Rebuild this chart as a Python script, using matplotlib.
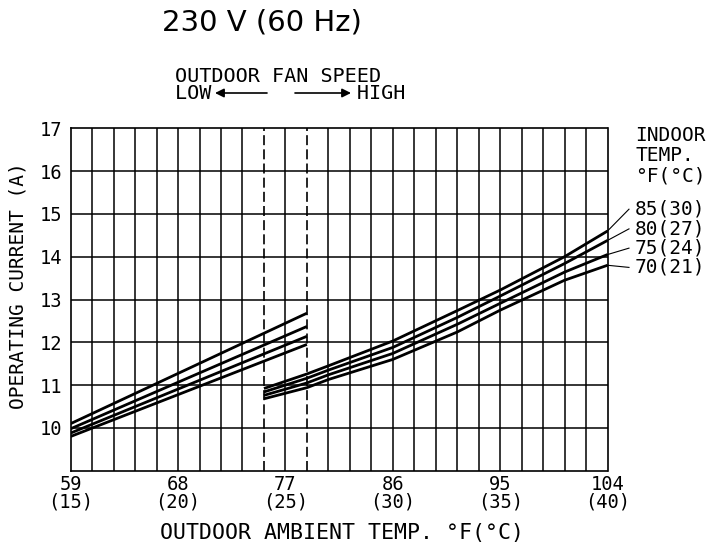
import matplotlib.pyplot as plt

# outdoor temperature axis (deg C), tick labels in F (C)
xtick_c = [15, 20, 25, 30, 35, 40]
xtick_f = [59, 68, 77, 86, 95, 104]
ytick_a = [10, 11, 12, 13, 14, 15, 16, 17]
fan_change = [24, 26]  # dashed lines: low / high fan speed switch

# low fan speed section
low_x = [15, 26]
low_85 = [10.10, 12.68]
low_80 = [9.98, 12.37]
low_75 = [9.88, 12.14]
low_70 = [9.80, 11.95]

# high fan speed section
high_x = [24, 26, 27, 30, 33, 35, 38, 40]
high_85 = [10.92, 11.26, 11.45, 12.03, 12.74, 13.22, 14.00, 14.60]
high_80 = [10.84, 11.16, 11.35, 11.88, 12.58, 13.08, 13.84, 14.38]
high_75 = [10.76, 11.05, 11.24, 11.74, 12.42, 12.91, 13.64, 14.05]
high_70 = [10.68, 10.94, 11.13, 11.60, 12.24, 12.75, 13.45, 13.80]

indoor_labels = ['85(30)', '80(27)', '75(24)', '70(21)']
label_y = [15.11, 14.65, 14.20, 13.75]

W, H = 728., 548.
mono = 'DejaVu Sans Mono'

fig = plt.figure(figsize=(W/100, H/100), dpi=100)
ax = fig.add_axes([70.7/W, 1-470.7/H, (607.5-70.7)/W, 342.4/H])
ax.set_xlim(15, 40)
ax.set_ylim(9, 17)

# grid
for x in range(16, 40):
    if x in fan_change:
        ax.axvline(x, color='k', lw=1.2, ls=(0, (6, 2.5)))
    else:
        ax.axvline(x, color='k', lw=1.1)
for y in range(10, 17):
    ax.axhline(y, color='k', lw=1.1)
for s in ax.spines.values():
    s.set_linewidth(1.2)

lows = [low_85, low_80, low_75, low_70]
highs = [high_85, high_80, high_75, high_70]
for lo, hi in zip(lows, highs):
    ax.plot(low_x, lo, color='k', lw=2.0, solid_capstyle='butt')
    ax.plot(high_x, hi, color='k', lw=2.0, solid_capstyle='butt')

# leader lines + indoor temp labels
for hi, lab, ly in zip(highs, indoor_labels, label_y):
    ax.plot([40, 41.0], [hi[-1], ly], color='k', lw=0.8, clip_on=False)
    ax.text(41.25, ly, lab, family=mono, fontsize=14, va='center', ha='left')
ax.text(41.3, 16.83, 'INDOOR', family=mono, fontsize=14, va='center', ha='left')
ax.text(41.3, 16.36, 'TEMP.', family=mono, fontsize=14, va='center', ha='left')
ax.text(41.3, 15.89, '°F(°C)', family=mono, fontsize=14, va='center', ha='left')

ax.set_xticks(xtick_c)
ax.set_xticklabels([f'{f}\n({c})' for f, c in zip(xtick_f, xtick_c)],
                   family=mono, fontsize=13.5, linespacing=0.9)
ax.set_yticks(ytick_a)
ax.set_yticklabels([str(v) for v in ytick_a], family=mono, fontsize=13.5)
ax.tick_params(axis='x', length=0, pad=3)
ax.tick_params(axis='y', length=0, pad=6)

fig.text(18/W, 1-286/H, 'OPERATING CURRENT (A)', family=mono, fontsize=14,
         rotation=90, ha='center', va='center')
fig.text(342.5/W, 1-532.5/H, 'OUTDOOR AMBIENT TEMP. °F(°C)', family=mono,
         fontsize=15.5, ha='center', va='center')

# header
fig.text(162/W, 1-22/H, '230 V (60 Hz)', family='DejaVu Sans', fontsize=21,
         ha='left', va='center')
fig.text(175/W, 1-85/H, 'OUTDOOR FAN SPEED\nLOW' + ' ' * 12 + 'HIGH', family=mono,
         fontsize=14.5, ha='left', va='center', linespacing=0.85)
arr = dict(arrowstyle='-|>', color='k', lw=1.2, mutation_scale=13, shrinkA=0, shrinkB=0)
fig.add_artist(plt.Annotation('', xy=(215/W, 1-93/H), xycoords='figure fraction',
                              xytext=(267/W, 1-93/H), textcoords='figure fraction',
                              arrowprops=arr))
fig.add_artist(plt.Annotation('', xy=(351/W, 1-93/H), xycoords='figure fraction',
                              xytext=(295/W, 1-93/H), textcoords='figure fraction',
                              arrowprops=arr))

fig.savefig('out.png', dpi=100)
